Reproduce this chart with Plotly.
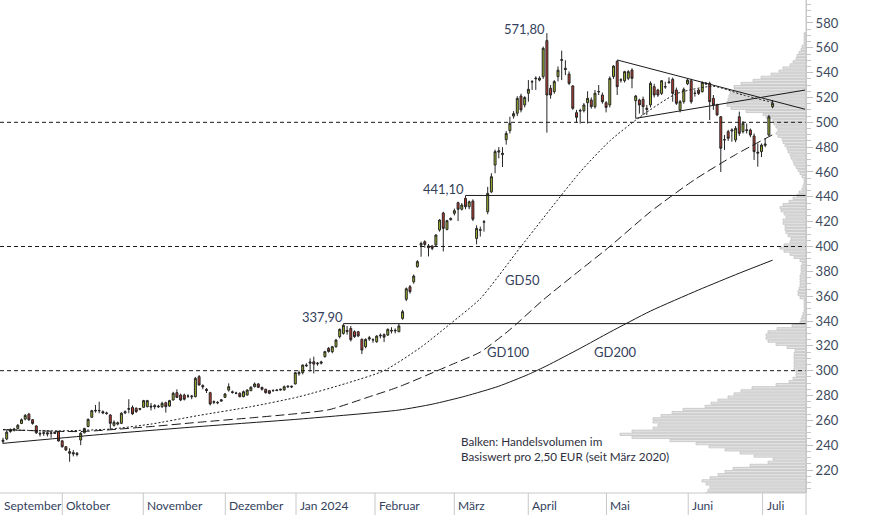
import plotly.graph_objects as go

# ---------------- data ----------------
# daily candles, index 0 = first trading day shown (Sep 2023), index 208 = last (Jul 2024)
opens = [
    243, 245, 251, 252, 253.5, 257.5, 261, 265, 260.5, 255.5,
    249.5, 249.5, 250, 250, 250.5, 250.9, 243.5, 238.8, 234.8, 234,
    233.5, 244.2, 250, 255, 262.5, 267.5, 268, 267, 266, 264.3,
    256, 257, 257.6, 266, 269.5, 270.5, 269.7, 269.5, 270.5, 271,
    271.5, 272, 271.5, 271, 274.2, 271.5, 276.4, 282.3, 280.4, 280.4,
    279.5, 279, 279.1, 295.2, 288, 285, 282.3, 274.5, 274.5, 275.5,
    278.5, 284.4, 283, 282, 281.8, 279.1, 280.4, 283.9, 287.1, 289.3,
    286.6, 285, 283.9, 283.9, 284, 284.4, 284.5, 287, 287.5, 289.3,
    297.5, 298.4, 304.5, 306, 307.2, 305.5, 306, 311.3, 318, 315.3,
    319.3, 327.4, 330, 332.5, 334, 331.4, 331.4, 325.2, 319.3, 325.5,
    325, 323.3, 328, 329, 328.7, 332.5, 332, 331.4, 342.1, 357.5,
    367.6, 371.6, 383.7, 401, 403.9, 400.5, 400.5, 401.2, 413.3, 427,
    413.8, 421.5, 426.7, 435.3, 430, 438.8, 432, 436.6, 406.5, 413,
    419.5, 428, 444, 465.6, 476, 474, 486, 493.3, 505, 507.3,
    521.2, 514, 523.4, 532.5, 535, 534, 536.8, 565.8, 527.4, 524.7,
    536.8, 550.5, 543.5, 538.9, 529.3, 507.8, 509, 509.4, 515.8, 518,
    512.6, 524.5, 522, 515.8, 514, 536.8, 549, 534, 533.5, 535.4,
    542.1, 517.4, 518, 518.5, 511.3, 514, 528.7, 526, 523.3, 528.5,
    532, 534.6, 526, 509.9, 516.6, 531, 533.5, 523.5, 526, 524.7,
    531.5, 531.4, 519.3, 514, 504.5, 486, 492.5, 493, 485.8, 504.5,
    492.5, 494, 493.8, 489, 476, 476.4, 481.5, 489.8, 512.6,
]
highs = [
    246, 252, 253.5, 254, 257, 261.5, 265, 266, 261, 256,
    251, 251, 251, 251.5, 251, 251.5, 244, 239, 237.5, 236,
    234.5, 250.5, 254, 261.5, 268.5, 272.4, 275, 268, 267, 265,
    260, 259, 266.5, 268, 277, 272, 270.5, 270, 276.5, 276.5,
    274, 273, 272.5, 275, 275, 276.5, 283, 285, 281.5, 281.5,
    281, 280.5, 295, 296.5, 289, 286, 283, 276, 275.5, 277,
    282, 289.8, 284, 283, 282.5, 284, 285, 287.5, 290.5, 290,
    287, 285.5, 284.5, 285, 285, 285.5, 288, 288, 288, 299,
    300, 305, 306, 309.9, 311.3, 307, 308, 316, 319, 320,
    325.5, 334, 337.9, 336, 336, 332.5, 332, 326, 326, 328,
    326, 328.5, 330, 330, 334, 335, 334, 338, 349, 367,
    369, 377.5, 389, 403.9, 405, 402, 401, 410, 422, 428,
    421.5, 423.5, 430.5, 436, 435, 441.1, 437, 438, 417, 416,
    421.3, 448, 459, 478, 480, 480, 493, 504.5, 509, 521,
    523, 521, 534, 534, 537, 537, 561, 571.8, 530, 534,
    545, 557.7, 550, 541, 530, 510, 511, 515.5, 525, 520,
    526, 530, 524, 517, 537, 546, 550.2, 535.5, 541.5, 542,
    543.5, 522, 519, 520.7, 514, 533, 531, 527, 534, 532.7,
    536.2, 536, 528, 518, 528, 535, 535, 526, 527, 533,
    532.5, 532.7, 522, 515, 505, 489.8, 494, 495.2, 497, 508.6,
    501, 499, 495, 491, 483, 483, 487, 506, 518,
]
lows = [
    241, 244, 250, 251, 253, 257, 260, 259.5, 256.5, 249,
    247, 247.5, 247, 246, 249, 243, 238, 235.5, 226.7, 231,
    231, 240, 249.5, 254.5, 262, 266.2, 265.7, 265, 264.5, 252.5,
    255, 256, 257, 265, 265.7, 264.5, 266, 268, 270, 270.5,
    268, 269, 270, 270, 266.2, 271, 276, 278, 275.5, 276,
    278, 277, 278.5, 288, 285, 282, 272, 273, 273, 275,
    278, 283.1, 281.5, 281, 278.5, 278.5, 280, 283.5, 286.5, 286,
    284, 281.5, 281, 283, 283.5, 284, 284, 286, 286, 289,
    296, 297, 303, 299.2, 297.8, 304, 305, 310.5, 314.5, 314,
    318.5, 326, 329, 329, 323.5, 326.5, 327, 313.4, 318, 324,
    322.5, 322.5, 326, 323, 328, 330, 330, 331, 341, 356,
    362, 370, 383, 391.8, 399, 392, 397, 400, 412, 396,
    413, 421, 425, 420.5, 429, 430, 430, 420.5, 401.7, 408,
    412, 426, 443, 459, 471, 464, 482, 491, 503, 505,
    508, 512, 516.6, 526, 526, 533, 535, 491.7, 519, 523,
    533, 534, 538, 530, 510, 500, 499, 508, 499, 511,
    511, 522, 515, 508, 512, 535, 522, 532, 532, 534,
    527.4, 503.2, 507, 505.9, 505.9, 512, 520, 520.5, 522, 527,
    531, 516.6, 514, 508, 515, 530, 515, 520.7, 522, 524,
    530, 501.9, 510, 505, 460, 477.7, 485, 484.4, 484, 489,
    491, 491, 488, 469.7, 464.3, 472, 480, 489, 511.3,
]
closes = [
    244, 250.5, 252.5, 253, 256, 260.5, 264, 260.5, 257.5, 250,
    249, 250, 249, 249.5, 249.5, 243.4, 238.8, 236.1, 233.5, 233,
    232.5, 249.6, 253.5, 260.8, 267.8, 268, 267.8, 266, 265.5, 257.6,
    258.5, 258, 265.7, 267, 269, 265.2, 267, 269, 275.9, 275.9,
    270.8, 271, 271, 273.7, 271, 275.9, 281.8, 278.5, 276.4, 277,
    279.6, 279.5, 293.8, 288.5, 287, 284, 273.2, 275, 274.2, 276.5,
    281.2, 287.1, 282.5, 281.8, 279.1, 283.1, 284.4, 286.6, 289.3, 286.6,
    285, 282.3, 281.8, 284, 284.4, 285, 287.1, 287.5, 287, 298.4,
    298.5, 304.5, 304, 307, 305.3, 306, 307, 315.3, 315.5, 319.3,
    324.7, 333.3, 336.5, 331.5, 325, 327.4, 328, 316.6, 325.2, 326.5,
    324.8, 327.9, 328.5, 327, 333.3, 332, 332.5, 336, 347.5, 366,
    363.6, 376.2, 387.8, 402.5, 401.7, 399, 398.5, 409.2, 421.3, 414.6,
    420.8, 422.5, 428.8, 430, 433.4, 432, 436, 422, 414.6, 413.5,
    420, 442.8, 456.2, 476.4, 477, 475, 491, 499.2, 507, 519.3,
    510, 520, 526.6, 532.7, 535.5, 535.5, 559.6, 522, 522, 532.8,
    542, 550, 542.5, 531.4, 511.3, 504, 509.5, 514, 519.3, 512.6,
    523.4, 524.8, 516.6, 512, 535.4, 545.3, 528.7, 534.2, 540.8, 540.8,
    535.4, 521.2, 514, 512.6, 510.5, 531.4, 522, 522, 533.5, 528.7,
    532.5, 523.3, 515.3, 516.6, 526.6, 534, 516.6, 523.3, 523.3, 532,
    531, 516.6, 514, 506, 479.1, 485.8, 487.1, 493.8, 495.2, 491.1,
    499.2, 493.5, 489.8, 476.4, 475.2, 481.7, 482.5, 504.5, 515.3,
]

# moving averages (sampled along the candle index)
gd50_x = [0, 15, 29, 40, 53, 67, 80, 93, 103, 113, 121, 129, 140, 156, 164, 172, 182, 192, 200, 208]
gd50_y = [252.5, 251.5, 253, 257, 264, 271, 279, 290, 300, 319, 338, 358, 400, 460, 485, 504, 523, 529, 522, 516]
gd100_x = [0, 21, 40, 53, 67, 78, 88, 99, 107, 121, 129, 137, 146, 156, 164, 175, 187, 198, 208]
gd100_y = [252.5, 251, 255, 258.5, 262, 265, 268.5, 279, 287, 304.6, 315, 333, 357, 381, 400, 428, 454, 474, 490]
gd200_x = [0, 26, 53, 80, 107, 116, 125, 134, 142, 147, 156, 164, 175, 188, 199, 208]
gd200_y = [241.5, 248.5, 255, 261, 268.3, 273.0, 279.5, 287.5, 297, 304, 318, 331, 348, 365, 378.5, 389]

# triangle trend lines
tri_upper_x = [166, 216.8]
tri_upper_y = [550.2, 510.5]
tri_lower_x = [171, 216.8]
tri_lower_y = [503.2, 526]

# horizontal reference lines
dashed_levels = [300, 400, 500]
resist_levels = [337.9, 441.1]
resist_start = [92, 125]
resist_labels = ["337,90", "441,10"]
high_label = "571,80"
high_idx = 147
high_val = 571.8

# volume profile: bins of 2.50 EUR starting at 200
vol_bin_start = 200.0
vol_bin_size = 2.5
vol_len = [
    100, 98, 96, 100, 104, 96, 88, 81, 73, 56,
    38, 33, 52, 66, 81, 97, 110, 136, 174, 186,
    174, 153, 148, 153, 153, 145, 134, 123, 101, 95,
    88, 78, 72, 65, 54, 30, 17, 13, 10, 10,
    12, 12, 12, 12, 12, 12, 11, 19, 30, 38,
    40, 40, 38, 29, 14, 6, 5, 4, 3, 2,
    2, 2, 2, 6, 8, 8, 7, 6, 6, 6,
    6, 5, 5, 5, 4, 6, 12, 16, 22, 26,
    22, 16, 15, 18, 20, 21, 21, 23, 23, 20,
    22, 25, 26, 23, 17, 13, 9, 7, 4, 3,
    2, 2, 4, 6, 8, 10, 12, 13, 15, 16,
    18, 19, 21, 23, 24, 28, 30, 28, 30, 32,
    33, 40, 43, 60, 75, 79, 79, 78, 77, 76,
    72, 72, 65, 53, 45, 35, 27, 23, 16, 13,
    10, 9, 7, 5, 4, 2, 2, 2, 2,
]

# month axis
month_names = ["September", "Oktober", "November", "Dezember", "Jan 2024", "Februar",
               "März", "April", "Mai", "Juni", "Juli"]
month_start = [-0.81, 16.03, 37.92, 60.08, 79.19, 100.54, 121.97, 141.97, 163.1, 185.2, 205.3]

y_ticks = list(range(220, 581, 20))

# ---------------- figure ----------------
X_RANGE = [-0.81, 217.03]
Y_RANGE = [201.5, 598.5]
W, H = 874, 515
M_R, M_B = 68, 22
plot_h = H - M_B
below = -M_B / plot_h

FONT = "Lato"
TXT = "#33415c"
idx = list(range(len(opens)))
vol_y = [vol_bin_start + vol_bin_size * (k + 0.5) for k in range(len(vol_len))]

fig = go.Figure()

# volume profile on the base axis (drawn underneath)
fig.add_trace(go.Bar(
    y=vol_y, x=vol_len, orientation="h", xaxis="x", yaxis="y",
    width=vol_bin_size * 0.72,
    marker=dict(color="#e3e3e3", line=dict(color="#c3c3c3", width=0.8)),
    hoverinfo="skip", showlegend=False,
))

# price layer on overlaying axis x2
for xs, ys, dash in [(gd200_x, gd200_y, "solid"), (gd100_x, gd100_y, "9px,4px"),
                     (gd50_x, gd50_y, "2px,2px")]:
    fig.add_trace(go.Scatter(x=xs, y=ys, mode="lines", xaxis="x2", yaxis="y",
                             line=dict(color="#1a1a1a", width=1, dash=dash,
                                       shape="spline", smoothing=0.6),
                             hoverinfo="skip", showlegend=False))

for xs, ys in [(tri_upper_x, tri_upper_y), (tri_lower_x, tri_lower_y)]:
    fig.add_trace(go.Scatter(x=xs, y=ys, mode="lines", xaxis="x2", yaxis="y",
                             line=dict(color="#1a1a1a", width=1),
                             hoverinfo="skip", showlegend=False))

fig.add_trace(go.Candlestick(
    x=idx, open=opens, high=highs, low=lows, close=closes, xaxis="x2", yaxis="y",
    increasing=dict(fillcolor="#9db828", line=dict(color="#262626", width=1)),
    decreasing=dict(fillcolor="#c13a2c", line=dict(color="#262626", width=1)),
    whiskerwidth=0, showlegend=False, hoverinfo="skip",
))

shapes = []
for lv in dashed_levels:
    shapes.append(dict(type="line", xref="paper", x0=0, x1=1, yref="y", y0=lv, y1=lv,
                       line=dict(color="#1a1a1a", width=1, dash="4px,3px")))
for lv, st in zip(resist_levels, resist_start):
    shapes.append(dict(type="line", xref="x2", x0=st, x1=X_RANGE[1], yref="y", y0=lv, y1=lv,
                       line=dict(color="#1a1a1a", width=1)))
# axis frame pieces
shapes.append(dict(type="line", xref="paper", x0=0, x1=1, yref="paper", y0=0, y1=0,
                   line=dict(color="#c8c8c8", width=1)))
shapes.append(dict(type="line", xref="paper", x0=1, x1=1, yref="paper", y0=below, y1=1,
                   line=dict(color="#c8c8c8", width=1)))
for ms in month_start[1:]:
    shapes.append(dict(type="line", xref="x2", x0=ms, x1=ms, yref="paper", y0=below, y1=0,
                       line=dict(color="#c8c8c8", width=1)))

ann = []
for name, ms in zip(month_names, month_start):
    ann.append(dict(x=ms, y=below / 2 - 0.003, xref="x2", yref="paper", text=name,
                    showarrow=False, xanchor="left", yanchor="middle", xshift=2,
                    font=dict(family=FONT, size=12, color=TXT)))
for lv, st, lab, xs, ys in zip(resist_levels, resist_start, resist_labels, [2, 1], [-3, -4]):
    ann.append(dict(x=st, y=lv, xref="x2", yref="y", text=lab, showarrow=False,
                    xanchor="right", yanchor="bottom", xshift=xs, yshift=ys,
                    font=dict(family=FONT, size=13, color=TXT)))
ann.append(dict(x=high_idx, y=high_val, xref="x2", yref="y", text=high_label, showarrow=False,
                xanchor="right", yanchor="bottom", xshift=0, yshift=-6,
                font=dict(family=FONT, size=13, color=TXT)))
for lab, lx, ly in [("GD50", 140.3, 373), ("GD100", 136.5, 315), ("GD200", 165.4, 315)]:
    ann.append(dict(x=lx, y=ly, xref="x2", yref="y", text=lab, showarrow=False,
                    xanchor="center", yanchor="middle",
                    font=dict(family=FONT, size=13, color=TXT)))
ann.append(dict(x=123.8, y=237.3, xref="x2", yref="y",
                text="Balken: Handelsvolumen im<br>Basiswert pro 2,50 EUR (seit März 2020)",
                showarrow=False, xanchor="left", yanchor="middle", align="left", xshift=-2,
                font=dict(family=FONT, size=11.7, color="#2f2f40")))

fig.update_layout(
    width=W, height=H, margin=dict(l=0, r=M_R, t=0, b=M_B),
    paper_bgcolor="white", plot_bgcolor="white",
    showlegend=False, boxgap=0.25,
    xaxis=dict(range=[806, 0], visible=False, fixedrange=True,
               rangeslider=dict(visible=False)),
    xaxis2=dict(range=X_RANGE, overlaying="x", anchor="y", showgrid=False, zeroline=False,
                showticklabels=False, showline=False, ticks="",
                rangeslider=dict(visible=False), fixedrange=True),
    yaxis=dict(range=Y_RANGE, side="right", showgrid=False, zeroline=False,
               tickvals=y_ticks, ticktext=[str(v) for v in y_ticks],
               ticks="outside", ticklen=6, tickcolor="#c0c0c0", tickwidth=1,
               showline=True, linecolor="#c8c8c8", linewidth=1,
               minor=dict(dtick=5, tick0=0, ticks="outside", ticklen=4, tickcolor="#c8c8c8"),
               tickfont=dict(family=FONT, size=13, color="#3d4a5c"), fixedrange=True),
    shapes=shapes, annotations=ann,
)

fig.write_html("out.html")
